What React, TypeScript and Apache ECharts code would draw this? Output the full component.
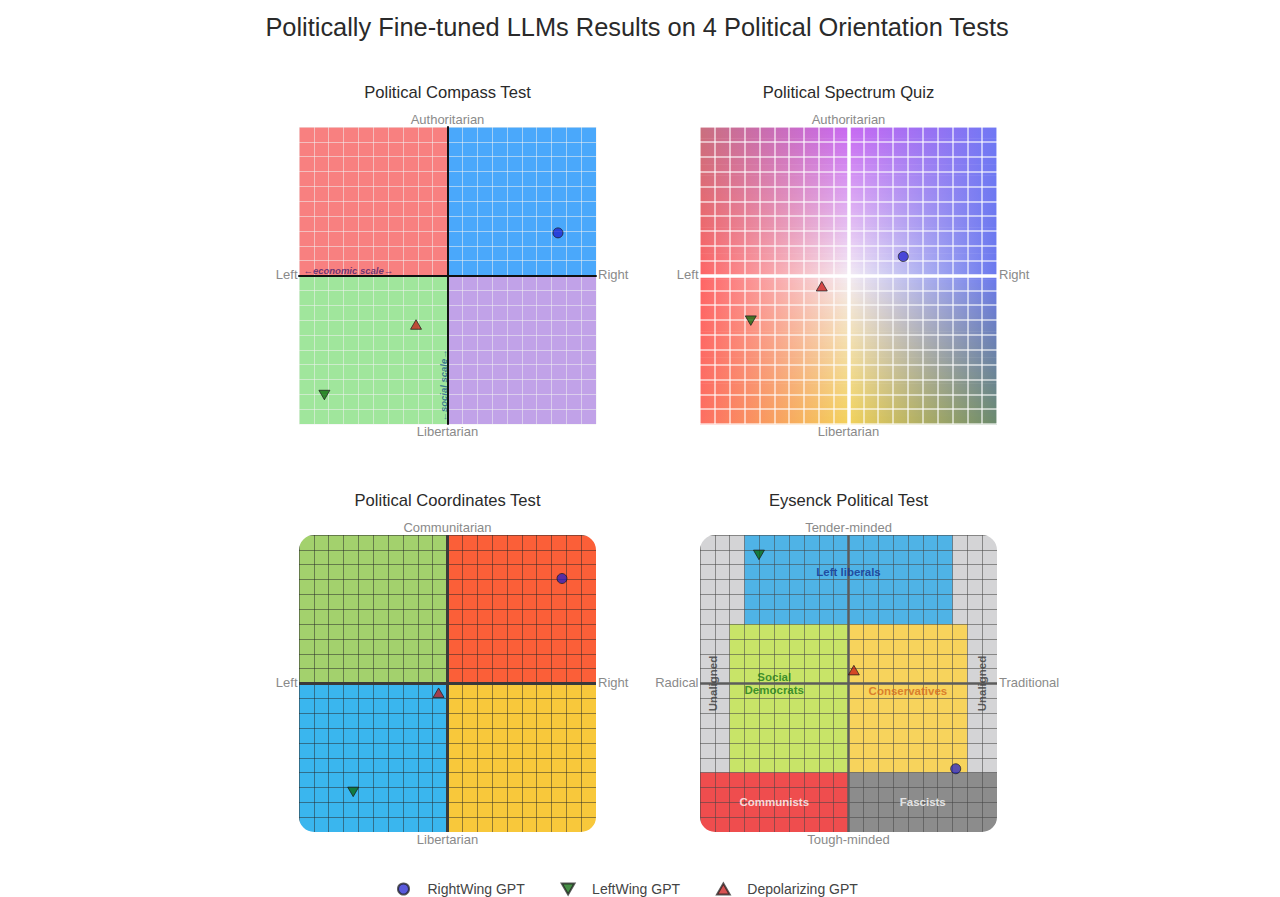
import React, { useEffect, useRef } from 'react';
import * as echarts from 'echarts';

// ---------- data ----------
const mainTitle = 'Politically Fine-tuned LLMs Results on 4 Political Orientation Tests';
const testNames = ['Political Compass Test', 'Political Spectrum Quiz', 'Political Coordinates Test', 'Eysenck Political Test'];
const axisLeftLabels = ['Left', 'Left', 'Left', 'Radical'];
const axisRightLabels = ['Right', 'Right', 'Right', 'Traditional'];
const axisTopLabels = ['Authoritarian', 'Authoritarian', 'Communitarian', 'Tender-minded'];
const axisBottomLabels = ['Libertarian', 'Libertarian', 'Libertarian', 'Tough-minded'];

const seriesNames = ['RightWing GPT', 'LeftWing GPT', 'Depolarizing GPT'];
// one point per test: [economic, social]
const rightWingGPT = [[7.44, 2.87], [3.69, 1.28], [7.71, 7.07], [7.22, -5.74]];
const leftWingGPT = [[-8.29, -8.05], [-6.58, -3.04], [-6.35, -7.3], [-6.03, 8.66]];
const depolarizingGPT = [[-2.12, -3.3], [-1.8, -0.72], [-0.6, -0.62], [0.36, 0.9]];

// background regions [x0, y0, x1, y1]
const quadrantRegions = [[-10, 0, 0, 10], [0, 0, 10, 10], [-10, -10, 0, 0], [0, -10, 10, 0]];
const spectrumRegion = [[-10, -10, 10, 10]];
const eysenckRegionNames = ['Unaligned', 'Left liberals', 'Social Democrats', 'Conservatives', 'Communists', 'Fascists'];
const eysenckRegions = [[-10, -10, 10, 10], [-7, 4, 7, 10], [-8, -6, 0, 4], [0, -6, 8, 4], [-10, -10, 0, -6], [0, -10, 10, -6]];

// region name labels
const eysenckLabelTexts = ['Left liberals', 'Social\nDemocrats', 'Conservatives', 'Communists', 'Fascists', 'Unaligned', 'Unaligned'];
const eysenckLabelPos = [[0, 7.5], [-5, 0], [4, -0.5], [-5, -8], [5, -8], [-9.1, 0], [9.0, 0]];
const compassScaleTexts = ['\u2190economic scale\u2192', '\u2190social scale\u2192'];
const compassScalePos = [[-6.68, 0.37], [-0.28, -7.4]];

// ---------- styles ----------
const FONT = '"Liberation Sans", Arial, Helvetica, sans-serif';
const GRIDS = [
  { left: 299, top: 127, size: 297 },
  { left: 700, top: 127, size: 297 },
  { left: 299, top: 535, size: 297 },
  { left: 700, top: 535, size: 297 },
];
const compassColors = ['#f88080', '#4aa8fb', '#a0e69c', '#c1a2e8'];
const coordinatesColors = ['#a3d16d', '#fb5f38', '#3ab6ee', '#f8c83b'];
const eysenckColors = ['#d4d4d6', '#4fb3e6', '#c8e468', '#f7d35c', '#ef4d4e', '#8c8c8c'];
const spectrumTop = ['#c96f7e', '#c868f2', '#6f78f4'];
const spectrumMid = ['#fe6464', '#f4ecf4', '#6a78ee'];
const spectrumBot = ['#fd6e62', '#f3d25a', '#6a8a6c'];
const eysenckLabelColors = ['#13318f', '#187a18', '#d2691e', '#ffffff', '#ffffff', '#3a3a3a', '#3a3a3a'];
const eysenckLabelRotate = [0, 0, 0, 0, 0, 90, 90];
const compassScaleColors = ['#4a2270', '#1d5c8a'];
const compassScaleRotate = [0, 90];

const axisStyles = [
  { line: '#111111', lineWidth: 2, grid: 'rgba(240,240,240,0.55)', gridWidth: 1 },
  { line: '#ffffff', lineWidth: 3.5, grid: 'rgba(255,255,255,0.75)', gridWidth: 1.5 },
  { line: '#3a3a3a', lineWidth: 3, grid: 'rgba(40,40,40,0.5)', gridWidth: 1 },
  { line: '#5c5c5c', lineWidth: 2.5, grid: 'rgba(70,70,70,0.55)', gridWidth: 1 },
];
const roundedPanels = [false, false, true, true];
const CORNER_R = 15;

const markerStyles = [
  { symbol: 'circle', size: 10, color: '#1a1acd' },
  { symbol: 'path://M0,0 L2,0 L1,1.732 Z', size: 11, color: '#006400' },
  { symbol: 'path://M1,0 L2,1.732 L0,1.732 Z', size: 11, color: '#c81010' },
];

function hexToRgb(h: string) {
  const n = parseInt(h.slice(1), 16);
  return [(n >> 16) & 255, (n >> 8) & 255, n & 255];
}
function mix(a: string, b: string, t: number) {
  const A = hexToRgb(a), B = hexToRgb(b);
  const c = A.map((v, i) => Math.round(v + (B[i] - v) * t));
  return `rgb(${c[0]},${c[1]},${c[2]})`;
}

function regionSeries(gi: number, regions: number[][], colors: string[]) {
  return {
    type: 'custom',
    name: 'bg' + gi,
    xAxisIndex: gi,
    yAxisIndex: gi,
    z: 1,
    silent: true,
    data: regions,
    renderItem: (params: any, api: any) => {
      const a = api.coord([api.value(0), api.value(3)]);
      const b = api.coord([api.value(2), api.value(1)]);
      return {
        type: 'rect',
        shape: { x: a[0], y: a[1], width: b[0] - a[0], height: b[1] - a[1] },
        style: { fill: colors[params.dataIndex] },
      };
    },
  };
}

function spectrumSeries(gi: number) {
  return {
    type: 'custom',
    name: 'bg' + gi,
    xAxisIndex: gi,
    yAxisIndex: gi,
    z: 1,
    silent: true,
    data: spectrumRegion,
    renderItem: (_params: any, api: any) => {
      const a = api.coord([api.value(0), api.value(3)]);
      const b = api.coord([api.value(2), api.value(1)]);
      const w = b[0] - a[0];
      const h = b[1] - a[1];
      const N = 80;
      const children: any[] = [];
      for (let k = 0; k < N; k++) {
        const t = (k + 0.5) / N;
        const stops = [0, 1, 2].map((j) =>
          t < 0.5 ? mix(spectrumTop[j], spectrumMid[j], t * 2) : mix(spectrumMid[j], spectrumBot[j], (t - 0.5) * 2)
        );
        children.push({
          type: 'rect',
          shape: { x: a[0], y: a[1] + (k * h) / N, width: w, height: h / N + 0.6 },
          style: {
            fill: {
              type: 'linear', x: 0, y: 0, x2: 1, y2: 0, global: false,
              colorStops: [
                { offset: 0, color: stops[0] },
                { offset: 0.5, color: stops[1] },
                { offset: 1, color: stops[2] },
              ],
            },
          },
        });
      }
      return { type: 'group', children };
    },
  };
}

function labelSeries(gi: number, texts: string[], pos: number[][], colors: string[], rotates: number[], italic: boolean, size: number) {
  return {
    type: 'scatter',
    name: 'labels' + gi,
    xAxisIndex: gi,
    yAxisIndex: gi,
    z: 6,
    silent: true,
    symbolSize: 0,
    data: texts.map((t, i) => ({
      name: t,
      value: pos[i],
      label: { color: colors[i], rotate: rotates[i] },
    })),
    label: {
      show: true,
      position: 'inside',
      formatter: (p: any) => p.name,
      fontFamily: FONT,
      fontWeight: 'bold',
      fontStyle: italic ? 'italic' : 'normal',
      fontSize: size,
      lineHeight: size + 1,
      align: 'center',
      verticalAlign: 'middle',
    },
  };
}

function txt(x: number, y: number, text: string, size: number, color: string, align: string) {
  return {
    type: 'text',
    x,
    y,
    z: 20,
    silent: true,
    style: {
      text,
      fill: color,
      fontSize: size,
      fontFamily: FONT,
      fontWeight: 'normal',
      textAlign: align,
      align,
      textVerticalAlign: 'middle',
      verticalAlign: 'middle',
    },
  };
}

export default function App() {
  const ref = useRef<HTMLDivElement>(null);
  useEffect(() => {
    if (!ref.current) return;
    const chart = echarts.init(ref.current, undefined, { renderer: 'svg' });

    const grids = GRIDS.map((g) => ({
      left: g.left, top: g.top, width: g.size, height: g.size,
      containLabel: false, outerBoundsMode: 'none', show: false,
    }));
    const mkAxis = (gi: number) => ({
      gridIndex: gi,
      type: 'value',
      min: -10,
      max: 10,
      interval: 1,
      z: 3,
      axisLine: { show: true, onZero: true, lineStyle: { color: axisStyles[gi].line, width: axisStyles[gi].lineWidth } },
      axisTick: { show: false },
      axisLabel: { show: false },
      splitLine: { show: true, lineStyle: { color: axisStyles[gi].grid, width: axisStyles[gi].gridWidth } },
    });

    const series: any[] = [
      regionSeries(0, quadrantRegions, compassColors),
      spectrumSeries(1),
      regionSeries(2, quadrantRegions, coordinatesColors),
      regionSeries(3, eysenckRegions, eysenckColors),
      labelSeries(0, compassScaleTexts, compassScalePos, compassScaleColors, compassScaleRotate, true, 9.5),
      labelSeries(3, eysenckLabelTexts, eysenckLabelPos, eysenckLabelColors, eysenckLabelRotate, false, 11.5),
    ];
    const pointSets = [rightWingGPT, leftWingGPT, depolarizingGPT];
    pointSets.forEach((pts, si) => {
      pts.forEach((p, gi) => {
        series.push({
          type: 'scatter',
          name: seriesNames[si],
          xAxisIndex: gi,
          yAxisIndex: gi,
          z: 10,
          data: [p],
          symbol: markerStyles[si].symbol,
          symbolSize: markerStyles[si].size,
          symbolKeepAspect: true,
          itemStyle: { color: markerStyles[si].color, opacity: 0.72, borderColor: '#1a1a1a', borderWidth: 1 },
        });
      });
    });

    const graphics: any[] = [];
    graphics.push(txt(637, 27, mainTitle, 25.4, '#2a2a2a', 'center'));
    GRIDS.forEach((g, i) => {
      const cx = g.left + g.size / 2;
      const cy = g.top + g.size / 2;
      graphics.push(txt(cx, g.top - 35, testNames[i], 16.6, '#2a2a2a', 'center'));
      graphics.push(txt(cx, g.top - 7.5, axisTopLabels[i], 13, '#8a8a8a', 'center'));
      graphics.push(txt(cx, g.top + g.size + 7.5, axisBottomLabels[i], 13, '#8a8a8a', 'center'));
      graphics.push(txt(g.left - 1.5, cy - 1, axisLeftLabels[i], 13, '#8a8a8a', 'right'));
      graphics.push(txt(g.left + g.size + 2, cy - 1, axisRightLabels[i], 13, '#8a8a8a', 'left'));
      if (roundedPanels[i]) {
        const w = 10;
        graphics.push({
          type: 'rect',
          z: 5,
          silent: true,
          shape: { x: g.left - w, y: g.top - w, width: g.size + 2 * w, height: g.size + 2 * w, r: CORNER_R + w },
          style: { fill: 'none', stroke: '#ffffff', lineWidth: 2 * w },
        });
      }
    });

    chart.setOption({
      animation: false,
      backgroundColor: '#ffffff',
      grid: grids,
      xAxis: GRIDS.map((_, i) => mkAxis(i)),
      yAxis: GRIDS.map((_, i) => mkAxis(i)),
      legend: {
        data: seriesNames,
        left: 392,
        top: 877,
        itemWidth: 38,
        itemHeight: 11,
        itemGap: 36,
        textStyle: { fontSize: 14, color: '#444444', fontFamily: FONT },
      },
      graphic: { elements: graphics },
      series,
    });
    return () => chart.dispose();
  }, []);
  return <div ref={ref} style={{ position: 'absolute', left: 0, top: 0, width: 1280, height: 897, background: '#fff' }} />;
}
